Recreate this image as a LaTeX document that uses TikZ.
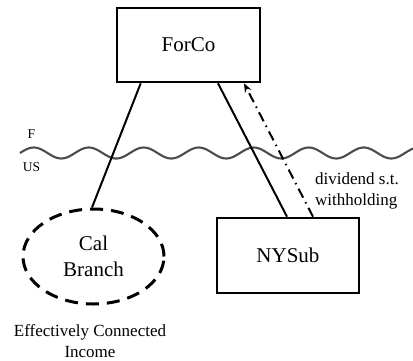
\documentclass[tikz,border=0pt]{standalone}
\usepackage{fontspec}
\setmainfont{Liberation Serif}
\usetikzlibrary{shapes.geometric,arrows.meta,calc}
\begin{document}
\begin{tikzpicture}[x=1pt,y=-1pt,
  entity/.style={draw,line width=2.6pt,minimum width=143pt,minimum height=74pt,inner sep=0pt,font=\fontsize{21}{26}\selectfont},
  branchnode/.style={draw,ellipse,line width=3pt,dash pattern=on 13pt off 8pt,minimum width=141pt,minimum height=95pt,inner sep=0pt,align=center,font=\fontsize{21}{26}\selectfont},
  link/.style={line width=2pt},
  flow/.style={line width=2pt,dash pattern=on 10pt off 5pt on 1.5pt off 5pt,-{Stealth[length=9pt,width=7pt]}},
  note/.style={font=\fontsize{17}{21}\selectfont,align=center,inner sep=0pt},
  side/.style={font=\fontsize{13.5}{16}\selectfont,inner sep=0pt}
]
\useasboundingbox (0,0) rectangle (413,360);
\node[entity] (forco) at (188.5,45) {ForCo};
\node[entity,minimum width=142pt,minimum height=75pt] (nysub) at (288,255.5) {NYSub};
\node[branchnode] (cal) at (93.5,256.5) {Cal\\Branch};
\node[note] (eci) at (90,341) {Effectively Connected\\Income};
\node[note,align=left,anchor=west] (div) at (315,191) {dividend s.t.\\withholding};
\node[side] (f) at (31.5,134) {F};
\node[side] (us) at (31.5,167) {US};
\draw[color=black!70,line width=2.1pt,domain=20:413,samples=220,smooth] plot (\x,{153-5.5*sin(6.54545*(\x-20))});
\draw[link] ([xshift=25pt]forco.south west) -- ([xshift=-1.5pt]cal.north);
\draw[link] ([xshift=29.5pt]forco.south) -- ([xshift=-1pt]nysub.north);
\draw[flow] ([xshift=25pt]nysub.north) -- ([xshift=55.5pt]forco.south);
\end{tikzpicture}
\end{document}
